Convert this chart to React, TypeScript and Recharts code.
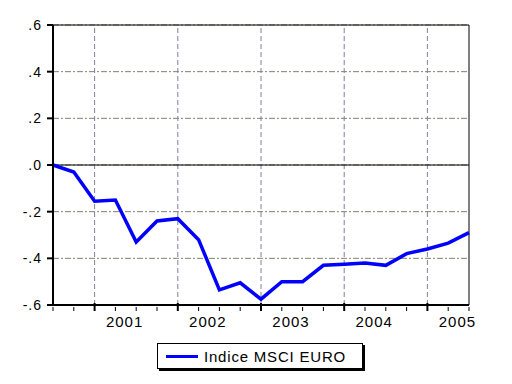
import React from "react";
import {
  LineChart,
  Line,
  XAxis,
  YAxis,
  CartesianGrid,
  ReferenceLine,
  ReferenceArea,
} from "recharts";

const quarterIdx = [0, 1, 2, 3, 4, 5, 6, 7, 8, 9, 10, 11, 12, 13, 14, 15, 16, 17, 18, 19, 20];
const msciValues = [
  0.0, -0.03, -0.155, -0.15, -0.33, -0.24, -0.23, -0.32, -0.535, -0.505, -0.575,
  -0.5, -0.5, -0.43, -0.425, -0.42, -0.43, -0.38, -0.36, -0.335, -0.29,
];
const majorIdx = [2, 6, 10, 14, 18];
const yearLabels = ["2001", "2002", "2003", "2004", "2005"];
const yTicks = [-0.6, -0.4, -0.2, 0, 0.2, 0.4, 0.6];

const data = quarterIdx.map((q, i) => ({ q, msci: msciValues[i] }));

const FONT = '"Liberation Sans", Arial, sans-serif';
const BLUE = "#0000ff";

function fmtY(v: number) {
  if (v === 0) return ".0";
  return (v < 0 ? "-" : "") + "." + Math.round(Math.abs(v) * 10);
}

function XTick(props: { x?: number; y?: number; payload?: { value: number } }) {
  const { x = 0, y = 0, payload } = props;
  const k = majorIdx.indexOf(payload?.value ?? -1);
  return (
    <g>
      <line x1={x} x2={x} y1={k >= 0 ? y - 4 : y} y2={y + 4} stroke="#000" strokeWidth={k >= 0 ? 2 : 1} />
      {k >= 0 && (
        <text x={x + 30} y={y + 20} textAnchor="middle" fontSize={15} letterSpacing={1} fontFamily={FONT} fill="#000">
          {yearLabels[k]}
        </text>
      )}
    </g>
  );
}

export default function App() {
  return (
    <div style={{ position: "absolute", left: 0, top: 0, width: 512, height: 384, background: "#fff" }}>
      <LineChart width={512} height={384} data={data} margin={{ top: 25, right: 43, bottom: 49, left: 0 }}>
        <CartesianGrid vertical={false} stroke="#808070" strokeDasharray="6 2 2 2" />
        {majorIdx.map((m) => (
          <ReferenceLine key={m} x={m} stroke="#80809a" strokeDasharray="5 3" />
        ))}
        <ReferenceLine y={0} stroke="#000" strokeWidth={1} />
        <ReferenceArea x1={0} x2={20} y1={-0.6} y2={0.6} fill="none" stroke="#000" strokeWidth={1} />
        <XAxis
          dataKey="q"
          type="number"
          domain={[0, 20]}
          ticks={quarterIdx}
          interval={0}
          height={30}
          tickSize={0}
          tickLine={false}
          axisLine={{ stroke: "#000", strokeWidth: 2 }}
          tick={<XTick />}
        />
        <YAxis
          type="number"
          domain={[-0.6, 0.6]}
          ticks={yTicks}
          width={53}
          tickSize={6}
          tickMargin={5}
          tickFormatter={fmtY}
          axisLine={{ stroke: "#000", strokeWidth: 2 }}
          tickLine={{ stroke: "#000", strokeWidth: 2 }}
          tick={{ fontSize: 14, fontFamily: FONT, fill: "#000", letterSpacing: 1 }}
        />
        <Line
          type="linear"
          dataKey="msci"
          stroke={BLUE}
          strokeWidth={3.5}
          dot={false}
          isAnimationActive={false}
        />
      </LineChart>
      <div
        style={{
          position: "absolute",
          left: 157,
          top: 343,
          width: 204,
          height: 24,
          border: "1px solid #000",
          boxShadow: "2px 2px 0 #000",
          background: "#fff",
          display: "flex",
          alignItems: "center",
          fontFamily: FONT,
          fontSize: 15,
          letterSpacing: 0.8,
          color: "#000",
        }}
      >
        <span style={{ display: "inline-block", marginLeft: 8, width: 32, height: 3, background: BLUE }} />
        <span style={{ marginLeft: 6 }}>Indice MSCI EURO</span>
      </div>
    </div>
  );
}
